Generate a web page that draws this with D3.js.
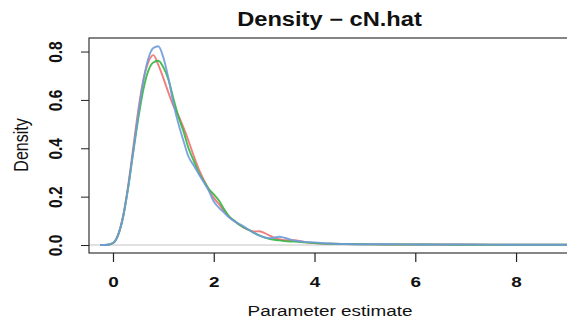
<!DOCTYPE html>
<html>
<head>
<meta charset="utf-8">
<script src="https://cdn.jsdelivr.net/npm/d3@7"></script>
<style>
  body { margin: 0; background: #fff; }
  text { font-family: "Liberation Sans", Arial, sans-serif; fill: #111; }
</style>
</head>
<body>
<svg width="567" height="322"></svg>
<script>
// grid of estimate values where the densities were read
const xGrid = [-0.25, -0.1, 0, 0.1, 0.2, 0.3, 0.4, 0.5, 0.6, 0.7, 0.8, 0.9, 1.0, 1.1, 1.2, 1.3, 1.4, 1.5,
  1.6, 1.7, 1.8, 1.9, 2.0, 2.1, 2.2, 2.3, 2.4, 2.5, 2.6, 2.7, 2.8, 2.9, 3.0, 3.1, 3.2, 3.3, 3.4,
  3.6, 3.8, 4.0, 4.3, 4.6, 5, 5.5, 6, 7, 8, 9.3];

const densRed = [0, 0.001, 0.008, 0.042, 0.12, 0.245, 0.40, 0.555, 0.68, 0.755, 0.785, 0.745, 0.69, 0.63, 0.575, 0.535, 0.485, 0.43,
  0.37, 0.315, 0.27, 0.23, 0.195, 0.17, 0.142, 0.118, 0.1, 0.085, 0.072, 0.062, 0.056, 0.057, 0.05, 0.04, 0.03, 0.024, 0.02,
  0.02, 0.012, 0.008, 0.005, 0.004, 0.003, 0.002, 0.002, 0.002, 0.001, 0.001];

const densGreen = [0, 0.001, 0.008, 0.04, 0.115, 0.235, 0.38, 0.52, 0.64, 0.72, 0.755, 0.762, 0.735, 0.685, 0.605, 0.53, 0.47, 0.40,
  0.35, 0.30, 0.265, 0.232, 0.21, 0.185, 0.15, 0.12, 0.102, 0.085, 0.072, 0.062, 0.05, 0.04, 0.032, 0.026, 0.022, 0.019, 0.016,
  0.014, 0.011, 0.008, 0.005, 0.004, 0.003, 0.002, 0.002, 0.001, 0.001, 0.001];

const densBlue = [0, 0.001, 0.008, 0.04, 0.115, 0.235, 0.385, 0.54, 0.675, 0.77, 0.815, 0.822, 0.775, 0.69, 0.585, 0.50, 0.43, 0.365,
  0.33, 0.295, 0.26, 0.225, 0.18, 0.155, 0.135, 0.115, 0.1, 0.088, 0.076, 0.062, 0.05, 0.04, 0.032, 0.028, 0.031, 0.034, 0.03,
  0.018, 0.013, 0.011, 0.006, 0.004, 0.003, 0.003, 0.002, 0.002, 0.001, 0.001];

const xTicks = [0, 2, 4, 6, 8];
const yTicks = [0, 0.2, 0.4, 0.6, 0.8];

const series = [
  { name: "red", values: densRed, color: "#f07070" },
  { name: "green", values: densGreen, color: "#33b640" },
  { name: "blue", values: densBlue, color: "#6e9bdc" }
];

const svg = d3.select("svg");
const stretch = 1.22; // picture is widened horizontally
const box = { left: 89, right: 575, top: 38, bottom: 253 };

const x = d3.scaleLinear().domain([-0.476, 9.17]).range([box.left, box.right]);
const y = d3.scaleLinear().domain([-0.033, 0.856]).range([box.bottom, box.top]);

// zero reference line
svg.append("line")
  .attr("x1", box.left).attr("x2", box.right)
  .attr("y1", y(0)).attr("y2", y(0))
  .attr("stroke", "#c4c4c4").attr("stroke-width", 1);

const line = d3.line()
  .x(d => x(d[0]))
  .y(d => y(d[1]))
  .curve(d3.curveMonotoneX);

series.forEach(s => {
  svg.append("path")
    .datum(xGrid.map((v, i) => [v, s.values[i]]))
    .attr("fill", "none")
    .attr("stroke", s.color)
    .attr("stroke-width", 1.9)
    .attr("stroke-opacity", 0.9)
    .attr("d", line);
});

// plot box
svg.append("rect")
  .attr("x", box.left).attr("y", box.top)
  .attr("width", box.right - box.left).attr("height", box.bottom - box.top)
  .attr("fill", "none").attr("stroke", "#222").attr("stroke-width", 1.1);

// x axis
const gx = svg.append("g")
  .attr("transform", `translate(0,${box.bottom})`)
  .call(d3.axisBottom(x).tickValues(xTicks).tickSize(9).tickSizeOuter(0).tickFormat(d3.format("d")));
gx.select(".domain").remove();
gx.selectAll(".tick line").attr("stroke", "#222").attr("stroke-width", 1.2);
gx.selectAll(".tick text")
  .attr("y", 0).attr("dy", 0)
  .attr("transform", `translate(0,34) scale(${stretch},1)`)
  .style("font-size", "15.5px").style("font-weight", "bold")
  .attr("fill", "#111");

// y axis
const gy = svg.append("g")
  .attr("transform", `translate(${box.left},0)`)
  .call(d3.axisLeft(y).tickValues(yTicks).tickSize(8).tickSizeOuter(0).tickFormat(d3.format(".1f")));
gy.select(".domain").remove();
gy.selectAll(".tick line").attr("stroke", "#222").attr("stroke-width", 1);
gy.selectAll(".tick text")
  .attr("x", 0).attr("dy", 0)
  .attr("text-anchor", "middle")
  .attr("transform", `translate(-27,0) scale(${stretch},1) rotate(-90)`)
  .style("font-size", "15.5px").style("font-weight", "bold")
  .attr("fill", "#111");

// labels
svg.append("text")
  .attr("transform", `translate(329.5,25.7) scale(${stretch},1)`)
  .attr("text-anchor", "middle")
  .style("font-size", "19.4px").style("font-weight", "bold")
  .text("Density − cN.hat");

svg.append("text")
  .attr("transform", `translate(330,316) scale(${stretch},1)`)
  .attr("text-anchor", "middle")
  .style("font-size", "15.5px")
  .text("Parameter estimate");

svg.append("text")
  .attr("transform", `translate(28,145) scale(${stretch},1) rotate(-90)`)
  .attr("text-anchor", "middle")
  .style("font-size", "16px")
  .text("Density");
</script>
</body>
</html>
